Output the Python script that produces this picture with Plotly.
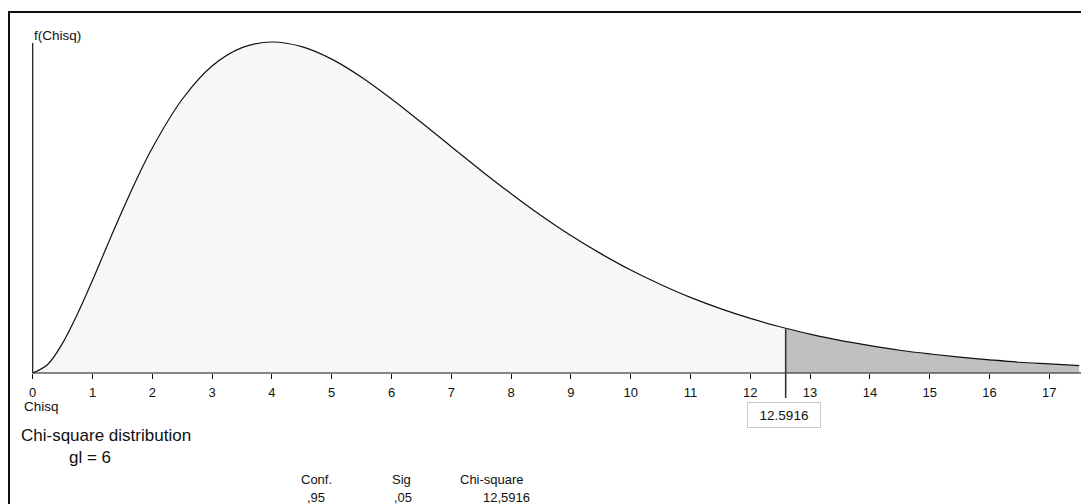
import plotly.graph_objects as go

# ---------------- data ----------------
chisq_x = [0, 0.25, 0.5, 0.75, 1, 1.25, 1.5, 1.75, 2, 2.5, 3, 3.5, 4, 4.5, 5, 5.5, 6,
           6.5, 7, 7.5, 8, 8.5, 9, 9.5, 10, 10.5, 11, 11.5, 12, 12.5916, 13, 13.5,
           14, 14.5, 15, 15.5, 16, 16.5, 17, 17.5]
density_y = [0.0, 0.0035, 0.0122, 0.0242, 0.0379, 0.0523, 0.0664, 0.0798, 0.0920,
             0.1119, 0.1255, 0.1330, 0.1353, 0.1334, 0.1283, 0.1209, 0.1120, 0.1024,
             0.0925, 0.0827, 0.0733, 0.0644, 0.0562, 0.0488, 0.0421, 0.0362, 0.0309,
             0.0263, 0.0223, 0.0183, 0.0159, 0.0133, 0.0112, 0.0093, 0.0078, 0.0065,
             0.0054, 0.0044, 0.0037, 0.0030]
critical_value = 12.5916
critical_label = "12.5916"
degrees_freedom = 6
tick_values = list(range(0, 18))
tick_labels = [str(v) for v in tick_values]
table_headers = ["Conf.", "Sig", "Chi-square"]
table_values = [",95", ",05", "12,5916"]

# ---------------- geometry helpers ----------------
OFF = 8  # the page body margin offsets the figure by 8 px
W, H = 1089 - OFF, 504 - OFF
X0_PX, PX_PER_X = 32.7 - OFF, 59.8
Y0_PX, PX_PER_Y = 373.0 - OFF, 331.0 / 0.1353
xr = [-X0_PX / PX_PER_X, (W - X0_PX) / PX_PER_X]
yr = [-(H - Y0_PX) / PX_PER_Y, Y0_PX / PX_PER_Y]


def px(xpix):  # reference pixel -> paper fraction
    return (xpix - OFF) / W


def py(ypix):
    return 1 - (ypix - OFF) / H


def ydata(ypix):  # reference pixel -> data y
    return (Y0_PX - (ypix - OFF)) / PX_PER_Y


def xdata(xpix):
    return ((xpix - OFF) - X0_PX) / PX_PER_X


FONT = "Liberation Sans, Arial, sans-serif"

left_x = [x for x in chisq_x if x <= critical_value]
left_y = [y for x, y in zip(chisq_x, density_y) if x <= critical_value]
right_x = [x for x in chisq_x if x >= critical_value]
right_y = [y for x, y in zip(chisq_x, density_y) if x >= critical_value]
crit_y = density_y[chisq_x.index(critical_value)]

fig = go.Figure()
fig.add_trace(go.Scatter(x=left_x, y=left_y, mode="lines", fill="tozeroy",
                         fillcolor="#f7f7f7", line=dict(color="#111", width=1.2, shape="spline"),
                         hoverinfo="skip", showlegend=False))
fig.add_trace(go.Scatter(x=right_x, y=right_y, mode="lines", fill="tozeroy",
                         fillcolor="#c0c0c0", line=dict(color="#111", width=1.2, shape="spline"),
                         hoverinfo="skip", showlegend=False))

shapes = [
    # outer frame
    dict(type="rect", xref="paper", yref="paper", x0=px(9), x1=px(1089 + 20),
         y0=py(504 + 20), y1=py(12), line=dict(color="#111", width=2), layer="above"),
    # x axis line
    dict(type="line", xref="x", yref="y", x0=0, x1=xdata(1083), y0=0, y1=0,
         line=dict(color="#111", width=1.2)),
    # y axis line
    dict(type="line", xref="x", yref="y", x0=0, x1=0, y0=0, y1=ydata(43),
         line=dict(color="#111", width=1.2)),
    # critical line
    dict(type="line", xref="x", yref="y", x0=critical_value, x1=critical_value,
         y0=crit_y, y1=ydata(398), line=dict(color="#333", width=1.6)),
]

annotations = [
    dict(text="f(Chisq)", xref="paper", yref="paper", x=px(32), y=py(35),
         xanchor="left", yanchor="middle", showarrow=False, font=dict(size=13.5, color="#111")),
    dict(text="Chisq", xref="paper", yref="paper", x=px(22), y=py(406),
         xanchor="left", yanchor="middle", showarrow=False, font=dict(size=13.5, color="#111")),
    dict(text="Chi-square distribution", xref="paper", yref="paper", x=px(19), y=py(435),
         xanchor="left", yanchor="middle", showarrow=False, font=dict(size=17, color="#111")),
    dict(text=f"gl = {degrees_freedom}", xref="paper", yref="paper", x=px(67), y=py(457),
         xanchor="left", yanchor="middle", showarrow=False, font=dict(size=17, color="#111")),
    dict(text=critical_label, xref="x", yref="paper", x=critical_value, y=py(415), xshift=-2,
         xanchor="center", yanchor="middle", showarrow=False, width=66, height=18,
         borderpad=3, bordercolor="#c8c8c8", borderwidth=1, bgcolor="white",
         font=dict(size=13.5, color="#111")),
]
header_centers = [316, 402, 492]
value_centers = [316, 403, 506]
for h, cx in zip(table_headers, header_centers):
    annotations.append(dict(text=h, xref="paper", yref="paper", x=px(cx), y=py(479),
                            xanchor="center", yanchor="middle", showarrow=False,
                            font=dict(size=13, color="#111")))
for v, cx in zip(table_values, value_centers):
    annotations.append(dict(text=v, xref="paper", yref="paper", x=px(cx), y=py(497),
                            xanchor="center", yanchor="middle", showarrow=False,
                            font=dict(size=13, color="#111")))

fig.update_layout(
    width=W, height=H, autosize=False,
    margin=dict(l=0, r=0, t=0, b=0),
    paper_bgcolor="white", plot_bgcolor="white",
    font=dict(family=FONT, color="#111"),
    shapes=shapes, annotations=annotations,
    xaxis=dict(range=xr, domain=[0, 1], anchor="free",
               position=(0 - yr[0]) / (yr[1] - yr[0]),
               showgrid=False, zeroline=False, showline=False,
               ticks="outside", ticklen=5, tickwidth=1.2, tickcolor="#111",
               tickvals=tick_values, ticktext=tick_labels,
               tickfont=dict(size=13, color="#111", family=FONT),
               ticklabelstandoff=2, fixedrange=True),
    yaxis=dict(range=yr, domain=[0, 1], visible=False, fixedrange=True),
)

fig.write_html("out.html")
